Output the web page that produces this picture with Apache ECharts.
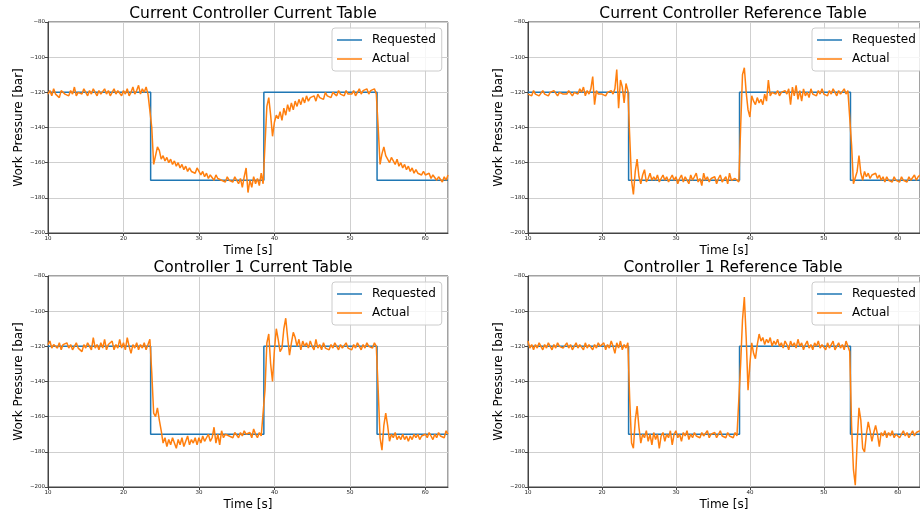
<!DOCTYPE html>
<html>
<head>
<meta charset="utf-8">
<script src="https://cdn.jsdelivr.net/npm/echarts@6/dist/echarts.min.js"></script>
<style>
  html, body { margin: 0; padding: 0; background: #fff; }
  #main { width: 920px; height: 518px; }
</style>
</head>
<body>
<div id="main"></div>
<script>
var chartDom = document.getElementById("main");
var myChart = echarts.init(chartDom);

// sample clock of the logged signals (s)
var t0 = 10;
var dt = 0.25;

// requested pressure steps (same for every run)
var reqTimes = [10, 23.6, 23.6, 38.6, 38.6, 53.6, 53.6, 63];
var reqValues = [-120, -120, -170, -170, -120, -120, -170, -170];

// actual pressure, one value every 0.25 s from 10 s to 63 s
var ccCurrent = [
  -121,-119,-122,-118,-121,-120,-123,-119,-118,-121,-120,-122,-119,-121,-117,-122,-120,-119,-121,-118,
  -120,-122,-119,-121,-118,-120,-122,-119,-121,-120,-118,-121,-119,-122,-120,-118,-121,-119,-120,-122,
  -119,-121,-118,-122,-120,-117,-121,-119,-116,-121,-118,-120,-117,-121,-120,-140,-161,-156,-151,-153,
  -158,-156,-159,-157,-160,-158,-161,-159,-162,-160,-163,-161,-164,-162,-165,-163,-165,-164,-166,-163,
  -162,-167,-165,-168,-166,-169,-167,-168,-170,-167,-169,-168,-170,-169,-171,-168,-170,-169,-171,-168,
  -170,-172,-169,-174,-168,-163,-177,-170,-174,-168,-172,-169,-173,-166,-172,-150,-128,-123,-133,-145,
  -137,-133,-135,-131,-136,-129,-133,-127,-131,-126,-130,-125,-128,-124,-127,-123,-126,-122,-125,-123,
  -124,-122,-125,-121,-123,-122,-124,-120,-122,-121,-123,-120,-121,-122,-119,-121,-120,-122,-119,-121,
  -120,-121,-119,-122,-120,-118,-121,-119,-120,-118,-121,-119,-120,-118,-121,-140,-161,-155,-151,-156,
  -158,-160,-157,-159,-161,-158,-162,-160,-163,-161,-164,-162,-165,-163,-166,-164,-166,-165,-167,-165,
  -167,-168,-166,-169,-167,-168,-170,-168,-169,-171,-168,-170,-167
];
var ccReference = [
  -121,-120,-122,-119,-121,-120,-122,-121,-119,-121,-120,-122,-120,-121,-119,-120,-122,-120,-119,-121,
  -120,-121,-119,-120,-122,-120,-119,-121,-118,-120,-117,-122,-119,-121,-118,-111,-127,-119,-121,-120,
  -121,-120,-122,-120,-121,-119,-121,-118,-107,-129,-113,-117,-126,-115,-119,-145,-170,-178,-165,-158,
  -168,-172,-167,-164,-171,-169,-166,-170,-168,-170,-167,-171,-169,-167,-170,-168,-171,-169,-167,-170,
  -168,-172,-169,-167,-171,-168,-170,-172,-167,-170,-168,-166,-171,-169,-173,-166,-170,-168,-171,-169,
  -170,-168,-172,-169,-167,-171,-170,-168,-172,-166,-170,-171,-169,-170,-171,-140,-110,-106,-120,-130,
  -134,-122,-125,-127,-123,-126,-124,-127,-121,-125,-113,-122,-120,-119,-121,-119,-122,-120,-121,-119,
  -121,-118,-127,-117,-122,-116,-124,-119,-125,-118,-122,-120,-123,-118,-121,-120,-122,-119,-121,-118,
  -121,-120,-122,-119,-121,-118,-120,-122,-119,-121,-120,-118,-121,-119,-120,-150,-172,-173,-165,-156,
  -166,-170,-165,-168,-166,-169,-167,-168,-166,-169,-167,-170,-168,-171,-168,-170,-169,-171,-168,-170,
  -169,-171,-168,-170,-169,-171,-168,-170,-169,-167,-170,-168,-167
];
var c1Current = [
  -119,-117,-121,-119,-118,-121,-118,-122,-119,-120,-118,-121,-119,-122,-120,-118,-121,-120,-123,-119,
  -121,-118,-120,-122,-115,-121,-119,-122,-118,-121,-116,-122,-119,-120,-117,-122,-119,-121,-116,-121,
  -118,-122,-115,-120,-124,-119,-121,-118,-122,-119,-121,-118,-122,-119,-116,-135,-158,-160,-155,-162,
  -168,-175,-172,-177,-173,-176,-172,-175,-178,-173,-176,-172,-177,-174,-171,-176,-173,-175,-172,-176,
  -172,-175,-171,-174,-172,-170,-174,-172,-166,-175,-170,-176,-168,-172,-170,-169,-171,-170,-172,-169,
  -170,-172,-169,-171,-168,-170,-171,-169,-172,-167,-170,-172,-169,-171,-172,-145,-118,-113,-130,-140,
  -122,-110,-116,-123,-121,-110,-104,-115,-125,-118,-112,-115,-120,-116,-122,-117,-120,-118,-121,-117,
  -120,-122,-116,-121,-119,-122,-118,-121,-120,-122,-119,-121,-118,-120,-122,-119,-121,-120,-118,-121,
  -120,-122,-119,-121,-118,-120,-122,-119,-121,-118,-120,-119,-121,-118,-120,-145,-172,-179,-165,-158,
  -165,-174,-170,-172,-169,-173,-171,-173,-170,-173,-171,-174,-171,-173,-170,-172,-170,-173,-171,-172,
  -170,-172,-169,-171,-173,-170,-172,-169,-171,-170,-172,-168,-170
];
var c1Reference = [
  -117,-121,-119,-122,-119,-121,-118,-120,-122,-119,-121,-118,-120,-122,-119,-121,-118,-120,-119,-121,
  -120,-118,-121,-119,-122,-120,-118,-121,-119,-120,-122,-118,-121,-119,-120,-122,-119,-121,-118,-120,
  -121,-118,-122,-119,-121,-117,-120,-124,-118,-121,-117,-122,-119,-121,-118,-150,-175,-178,-162,-154,
  -166,-175,-170,-172,-168,-174,-170,-176,-169,-173,-170,-178,-171,-169,-174,-170,-172,-168,-176,-170,
  -168,-172,-170,-174,-169,-171,-168,-173,-170,-172,-169,-171,-170,-172,-169,-171,-170,-168,-172,-170,
  -171,-169,-172,-170,-168,-171,-170,-172,-169,-171,-170,-172,-169,-171,-170,-130,-105,-92,-115,-145,
  -130,-118,-124,-127,-119,-113,-117,-115,-119,-116,-118,-115,-120,-117,-119,-116,-120,-118,-121,-117,
  -119,-122,-117,-120,-118,-121,-116,-120,-118,-122,-119,-117,-121,-119,-122,-118,-120,-117,-121,-119,
  -120,-122,-118,-121,-119,-117,-122,-120,-118,-121,-119,-122,-117,-120,-123,-165,-190,-199,-175,-155,
  -162,-178,-180,-170,-163,-168,-174,-169,-165,-170,-177,-169,-171,-168,-172,-169,-171,-168,-172,-170,
  -169,-172,-170,-168,-171,-169,-172,-170,-168,-171,-169,-170,-168
];

var titles = [
  "Current Controller Current Table",
  "Current Controller Reference Table",
  "Controller 1 Current Table",
  "Controller 1 Reference Table"
];
var actuals = [ccCurrent, ccReference, c1Current, c1Reference];

// panel boxes in pixels
var panels = [
  { left: 48, top: 22 },
  { left: 528, top: 22 },
  { left: 48, top: 276 },
  { left: 528, top: 276 }
];
var plotW = 400;
var plotH = 211;

var font = "DejaVu Sans";
var minus = function (v) {
  return v < 0 ? "\u2212" + Math.abs(v) : String(v);
};

function pairs(xs, ys) {
  return ys.map(function (y, i) { return [xs[i], y]; });
}
function sampled(ys) {
  return ys.map(function (y, i) { return [t0 + i * dt, y]; });
}

var option = {
  animation: false,
  backgroundColor: "#fff",
  textStyle: { fontFamily: font },
  title: [],
  legend: [],
  grid: [],
  xAxis: [],
  yAxis: [],
  series: []
};

panels.forEach(function (p, k) {
  option.title.push({
    text: titles[k],
    left: p.left + plotW / 2,
    top: p.top - 21,
    textAlign: "center",
    textStyle: { fontFamily: font, fontSize: 15.5, fontWeight: "normal", color: "#000" }
  });
  option.legend.push({
    orient: "vertical",
    left: p.left + 284,
    top: p.top + 6,
    icon: "rect",
    itemWidth: 25,
    itemHeight: 1.5,
    itemGap: 5,
    padding: [5, 6, 5, 5],
    backgroundColor: "rgba(255,255,255,0.8)",
    borderColor: "#cccccc",
    borderWidth: 1,
    borderRadius: 3,
    textStyle: { fontFamily: font, fontSize: 12, color: "#000", padding: [0, 0, 0, 5], lineHeight: 14 },
    data: ["Requested", "Actual"]
  });
  option.grid.push({
    left: p.left,
    top: p.top,
    width: plotW,
    height: plotH,
    show: true,
    borderColor: "#444",
    borderWidth: 1,
    containLabel: false
  });
  option.xAxis.push({
    type: "value",
    gridIndex: k,
    min: 10,
    max: 63,
    interval: 10,
    name: "Time [s]",
    nameLocation: "middle",
    nameGap: 12,
    nameTextStyle: { fontFamily: font, fontSize: 12, color: "#000" },
    axisLine: { show: true, onZero: false, lineStyle: { color: "#444", width: 1 } },
    axisTick: { show: true, length: 3, lineStyle: { color: "#444" } },
    axisLabel: { fontSize: 5.5, color: "#222", margin: 3, showMaxLabel: false, formatter: minus },
    splitLine: { show: true, lineStyle: { color: "#cfcfcf", width: 1 } }
  });
  option.yAxis.push({
    type: "value",
    gridIndex: k,
    min: -200,
    max: -80,
    interval: 20,
    name: "Work Pressure [bar]",
    nameLocation: "middle",
    nameGap: 23,
    nameTextStyle: { fontFamily: font, fontSize: 12, color: "#000" },
    axisLine: { show: true, onZero: false, lineStyle: { color: "#444", width: 1 } },
    axisTick: { show: true, length: 3, lineStyle: { color: "#444" } },
    axisLabel: { fontSize: 5.5, color: "#222", margin: 3, formatter: minus },
    splitLine: { show: true, lineStyle: { color: "#cfcfcf", width: 1 } }
  });
  option.series.push({
    name: "Requested",
    type: "line",
    xAxisIndex: k,
    yAxisIndex: k,
    symbol: "none",
    lineStyle: { color: "#1f77b4", width: 1.5 },
    itemStyle: { color: "#1f77b4" },
    data: pairs(reqTimes, reqValues)
  });
  option.series.push({
    name: "Actual",
    type: "line",
    xAxisIndex: k,
    yAxisIndex: k,
    symbol: "none",
    lineStyle: { color: "#ff7f0e", width: 1.5 },
    itemStyle: { color: "#ff7f0e" },
    data: sampled(actuals[k])
  });
});

option && myChart.setOption(option);
</script>
</body>
</html>
